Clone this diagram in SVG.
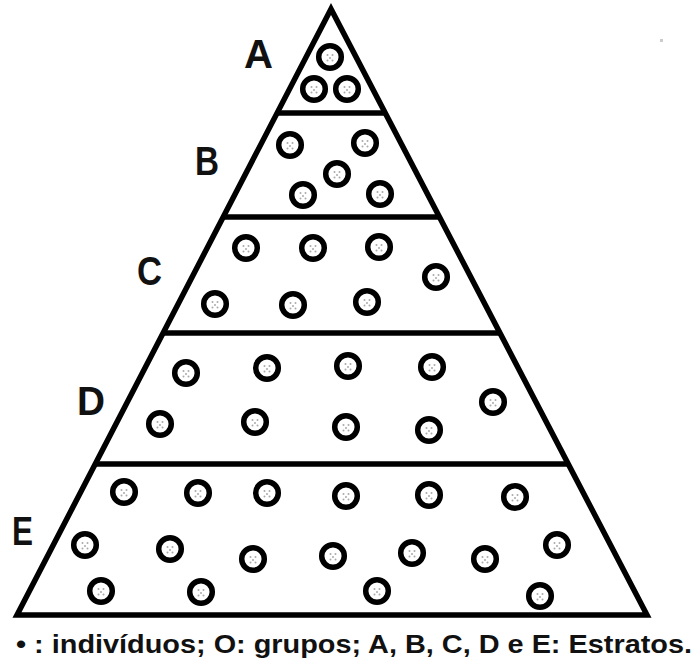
<svg xmlns="http://www.w3.org/2000/svg" xmlns:xlink="http://www.w3.org/1999/xlink" width="699" height="663" viewBox="0 0 699 663">
<style>
.edge{fill:none;stroke:#000;stroke-width:5.5;stroke-linejoin:miter;stroke-linecap:butt}
.lbl{font-family:"Liberation Sans",Arial,sans-serif;font-weight:bold;font-size:40px;fill:#111}
.cap{font-family:"Liberation Sans",Arial,sans-serif;font-weight:bold;font-size:25px;fill:#111}
</style>
<defs>
<symbol id="g" overflow="visible">
<circle cx="0" cy="0" r="11.3" fill="#fff" stroke="#000" stroke-width="5.5"/>
<circle cx="-2.5" cy="-2" r="1" fill="#aaa"/>
<circle cx="2.5" cy="-2" r="1" fill="#aaa"/>
<circle cx="0" cy="1" r="1" fill="#aaa"/>
<circle cx="-2.5" cy="3.5" r="1" fill="#aaa"/>
<circle cx="2.5" cy="3.5" r="1" fill="#aaa"/>
</symbol>
</defs>
<rect width="699" height="663" fill="#fff"/>
<g id="pyramid">
<polygon class="edge" points="331,9 17,615 647,615"/>
</g>
<g id="connectors">
<line class="edge" x1="277" y1="113" x2="385" y2="113"/>
<line class="edge" x1="223" y1="217" x2="439" y2="217"/>
<line class="edge" x1="163" y1="333" x2="499" y2="333"/>
<line class="edge" x1="95" y1="464" x2="568" y2="464"/>
</g>
<g id="stratumA">
<text class="lbl" x="244" y="68" textLength="29" lengthAdjust="spacingAndGlyphs">A</text>
<use xlink:href="#g" x="330" y="57"/>
<use xlink:href="#g" x="314" y="89"/>
<use xlink:href="#g" x="347" y="89"/>
</g>
<g id="stratumB">
<text class="lbl" x="195" y="175" textLength="24" lengthAdjust="spacingAndGlyphs">B</text>
<use xlink:href="#g" x="290" y="145"/>
<use xlink:href="#g" x="365" y="143"/>
<use xlink:href="#g" x="337" y="174"/>
<use xlink:href="#g" x="303" y="195"/>
<use xlink:href="#g" x="380" y="194"/>
</g>
<g id="stratumC">
<text class="lbl" x="137" y="285" textLength="25" lengthAdjust="spacingAndGlyphs">C</text>
<use xlink:href="#g" x="246" y="248"/>
<use xlink:href="#g" x="313" y="248"/>
<use xlink:href="#g" x="379" y="247"/>
<use xlink:href="#g" x="436" y="277"/>
<use xlink:href="#g" x="215" y="304"/>
<use xlink:href="#g" x="293" y="305"/>
<use xlink:href="#g" x="367" y="302"/>
</g>
<g id="stratumD">
<text class="lbl" x="77" y="415" textLength="28" lengthAdjust="spacingAndGlyphs">D</text>
<use xlink:href="#g" x="186" y="373"/>
<use xlink:href="#g" x="267" y="368"/>
<use xlink:href="#g" x="348" y="366"/>
<use xlink:href="#g" x="432" y="367"/>
<use xlink:href="#g" x="493" y="402"/>
<use xlink:href="#g" x="160" y="424"/>
<use xlink:href="#g" x="255" y="422"/>
<use xlink:href="#g" x="346" y="427"/>
<use xlink:href="#g" x="429" y="430"/>
</g>
<g id="stratumE">
<text class="lbl" x="12" y="545" textLength="21" lengthAdjust="spacingAndGlyphs">E</text>
<use xlink:href="#g" x="124" y="492"/>
<use xlink:href="#g" x="198" y="493"/>
<use xlink:href="#g" x="267" y="493"/>
<use xlink:href="#g" x="346" y="496"/>
<use xlink:href="#g" x="429" y="495"/>
<use xlink:href="#g" x="515" y="497"/>
<use xlink:href="#g" x="85" y="545"/>
<use xlink:href="#g" x="170" y="549"/>
<use xlink:href="#g" x="253" y="559"/>
<use xlink:href="#g" x="333" y="556"/>
<use xlink:href="#g" x="412" y="553"/>
<use xlink:href="#g" x="485" y="559"/>
<use xlink:href="#g" x="557" y="545"/>
<use xlink:href="#g" x="101" y="591"/>
<use xlink:href="#g" x="201" y="592"/>
<use xlink:href="#g" x="377" y="591"/>
<use xlink:href="#g" x="540" y="596"/>
</g>
<rect x="660" y="39" width="3" height="3" fill="#ccc"/>
<g id="caption">
<text class="cap" x="16" y="653" textLength="676" lengthAdjust="spacingAndGlyphs">• : indivíduos; O: grupos; A, B, C, D e E: Estratos.</text>
</g>
</svg>
